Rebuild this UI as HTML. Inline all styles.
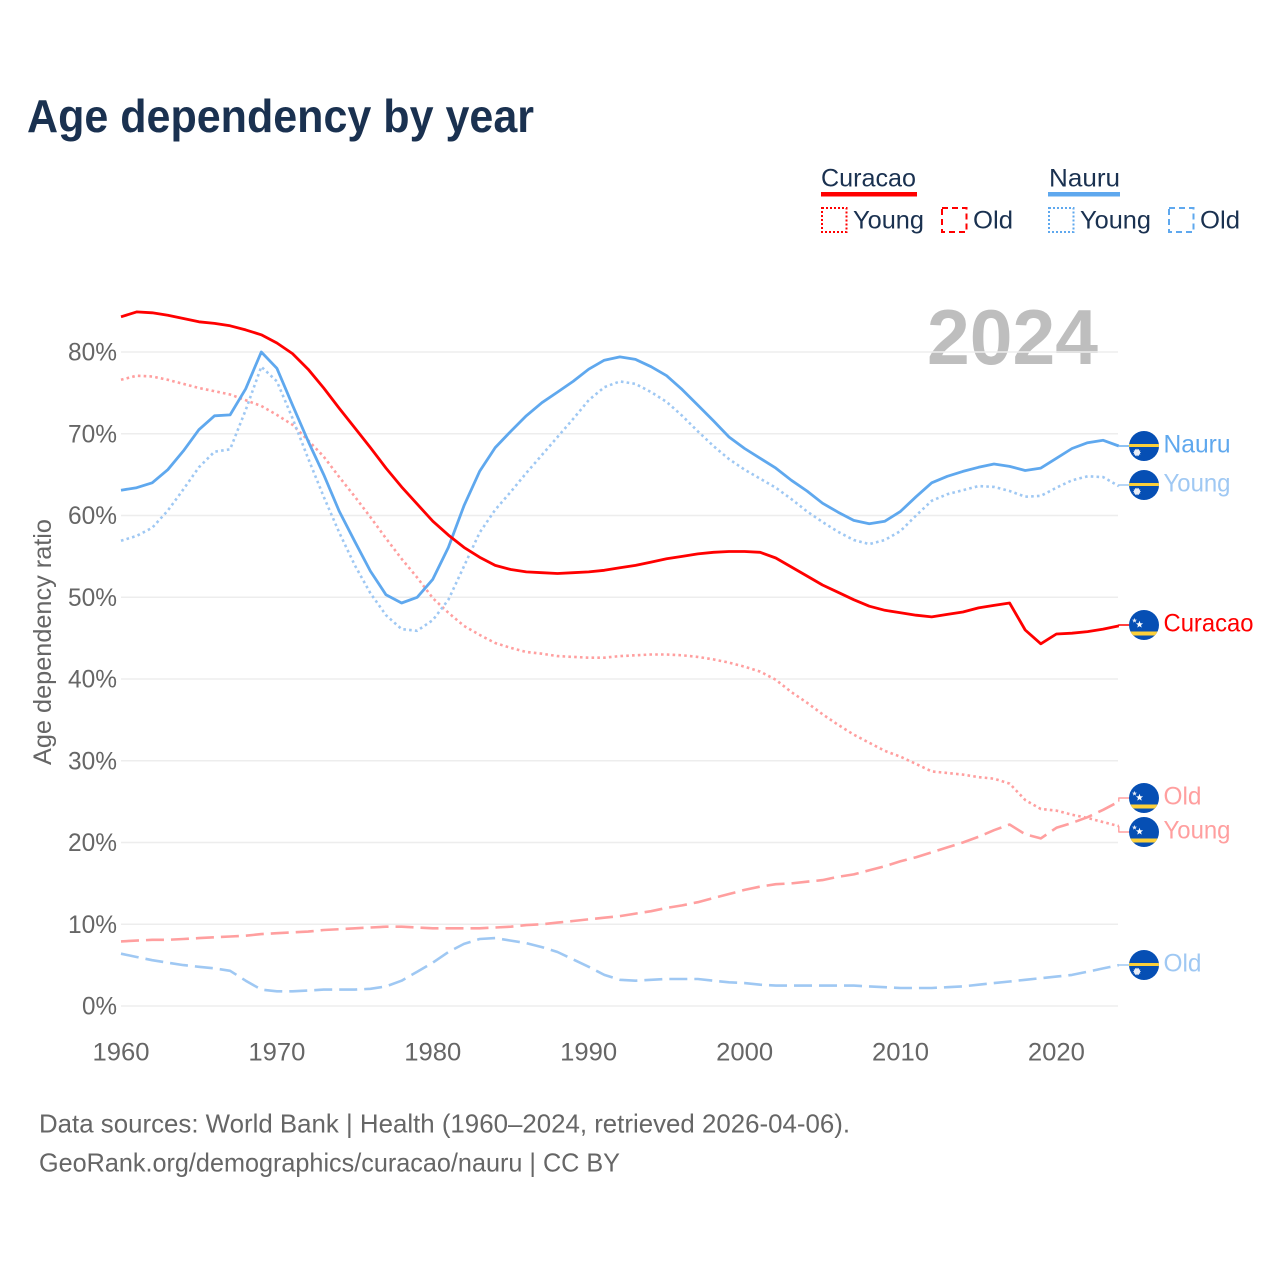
<!DOCTYPE html>
<html lang="en">
<head>
<meta charset="utf-8">
<title>Age dependency by year</title>
<style>
html,body{margin:0;padding:0;background:#fff;}
svg{display:block;font-family:"Liberation Sans",sans-serif;}
</style>
</head>
<body>
<svg id="chart" xmlns="http://www.w3.org/2000/svg" width="1280" height="1280" viewBox="0 0 1280 1280">
  <defs>
    <clipPath id="flag-clip"><circle cx="0" cy="0" r="15"/></clipPath>
  </defs>
  <rect x="0" y="0" width="1280" height="1280" fill="#ffffff"/>
  <text x="27" y="132" font-size="46" font-weight="700" fill="#1a3150" textLength="507" lengthAdjust="spacingAndGlyphs">Age dependency by year</text>

  <g font-size="25" fill="#1a3150">
    <text x="821" y="186.5" textLength="95" lengthAdjust="spacingAndGlyphs">Curacao</text>
    <rect x="821" y="192" width="96" height="4.5" fill="#ff0000"/>
    <rect x="822" y="208" width="24.5" height="24" fill="none" stroke="#ff0000" stroke-width="2" stroke-dasharray="2 2"/>
    <text x="853" y="228.5" textLength="71" lengthAdjust="spacingAndGlyphs">Young</text>
    <rect x="942" y="208" width="24.5" height="24" fill="none" stroke="#ff0000" stroke-width="2" stroke-dasharray="6 4"/>
    <text x="973" y="228.5" textLength="40" lengthAdjust="spacingAndGlyphs">Old</text>
    <text x="1049" y="186.5" textLength="71" lengthAdjust="spacingAndGlyphs">Nauru</text>
    <rect x="1048" y="192" width="72" height="4.5" fill="#5fa8ee"/>
    <rect x="1049" y="208" width="24.5" height="24" fill="none" stroke="#5fa8ee" stroke-width="2" stroke-dasharray="2 2"/>
    <text x="1080" y="228.5" textLength="71" lengthAdjust="spacingAndGlyphs">Young</text>
    <rect x="1169" y="208" width="24.5" height="24" fill="none" stroke="#5fa8ee" stroke-width="2" stroke-dasharray="6 4"/>
    <text x="1200" y="228.5" textLength="40" lengthAdjust="spacingAndGlyphs">Old</text>
  </g>

  <text x="927" y="364" font-size="78" font-weight="700" fill="#bebebe" textLength="171" lengthAdjust="spacingAndGlyphs">2024</text>

  <g id="grid"></g>
  <g id="y-ticks" font-size="25" fill="#666666" text-anchor="end"></g>
  <g id="x-ticks" font-size="25" fill="#666666" text-anchor="middle"></g>
  <text transform="translate(51 642) rotate(-90)" font-size="25" fill="#666666" text-anchor="middle" textLength="246" lengthAdjust="spacingAndGlyphs">Age dependency ratio</text>

  <g id="series" fill="none" stroke-linejoin="round"></g>
  <g id="end-labels" font-size="25"></g>

  <g font-size="26" fill="#666666">
    <text x="39" y="1132.5" textLength="811" lengthAdjust="spacingAndGlyphs">Data sources: World Bank | Health (1960–2024, retrieved 2026-04-06).</text>
    <text x="39" y="1171.5" textLength="581" lengthAdjust="spacingAndGlyphs">GeoRank.org/demographics/curacao/nauru | CC BY</text>
  </g>
</svg>
<script>
const firstYear = 1960;
const curacaoTotal = [
  84.3,84.9,84.8,84.5,84.1,83.7,83.5,83.2,82.7,82.1,
  81.1,79.8,77.9,75.6,73.1,70.7,68.3,65.8,63.5,61.4,
  59.3,57.6,56.1,54.9,53.9,53.4,53.1,53.0,52.9,53.0,
  53.1,53.3,53.6,53.9,54.3,54.7,55.0,55.3,55.5,55.6,
  55.6,55.5,54.8,53.7,52.6,51.5,50.6,49.7,48.9,48.4,
  48.1,47.8,47.6,47.9,48.2,48.7,49.0,49.3,46.0,44.3,
  45.5,45.6,45.8,46.1,46.5
];
const curacaoYoung = [
  76.6,77.1,77.0,76.6,76.1,75.6,75.2,74.8,74.1,73.4,
  72.3,71.1,69.2,67.2,64.7,62.3,59.8,57.2,54.7,52.4,
  49.9,48.1,46.5,45.4,44.4,43.8,43.3,43.1,42.8,42.7,
  42.6,42.6,42.8,42.9,43.0,43.0,42.9,42.7,42.4,42.0,
  41.5,40.9,39.9,38.4,37.1,35.7,34.4,33.2,32.2,31.2,
  30.5,29.6,28.7,28.5,28.3,28.0,27.8,27.2,25.2,24.1,
  23.9,23.4,23.0,22.5,22.0
];
const curacaoOld = [
  7.9,8.0,8.1,8.1,8.2,8.3,8.4,8.5,8.6,8.8,
  8.9,9.0,9.1,9.3,9.4,9.5,9.6,9.7,9.7,9.6,
  9.5,9.5,9.5,9.5,9.6,9.7,9.9,10.0,10.2,10.4,
  10.6,10.8,11.0,11.3,11.6,12.0,12.3,12.7,13.2,13.7,
  14.2,14.6,14.9,15.0,15.2,15.4,15.8,16.1,16.6,17.1,
  17.7,18.2,18.8,19.4,20.0,20.7,21.5,22.2,21.0,20.5,
  21.8,22.4,23.1,24.0,25.0
];
const nauruTotal = [
  63.1,63.4,64.0,65.6,67.9,70.5,72.2,72.3,75.5,80.0,
  78.0,73.5,69.1,65.0,60.5,56.8,53.2,50.3,49.3,50.0,
  52.2,56.1,61.2,65.4,68.3,70.3,72.2,73.8,75.1,76.4,
  77.9,79.0,79.4,79.1,78.2,77.1,75.4,73.5,71.6,69.6,
  68.2,67.0,65.8,64.3,63.0,61.5,60.4,59.4,59.0,59.3,
  60.5,62.3,64.0,64.8,65.4,65.9,66.3,66.0,65.5,65.8,
  67.0,68.2,68.9,69.2,68.5
];
const nauruYoung = [
  56.9,57.5,58.5,60.6,63.2,65.9,67.8,68.1,72.9,78.2,
  76.4,71.9,67.0,62.3,57.9,53.9,50.5,47.8,46.1,45.9,
  47.2,49.7,53.8,57.9,60.7,62.9,65.2,67.4,69.6,71.8,
  74.1,75.7,76.4,76.1,75.1,73.9,72.2,70.3,68.5,66.9,
  65.6,64.5,63.4,62.0,60.5,59.2,58.0,57.0,56.5,57.0,
  58.1,60.0,61.8,62.6,63.1,63.6,63.5,63.0,62.3,62.4,
  63.4,64.3,64.8,64.7,63.6
];
const nauruOld = [
  6.4,6.0,5.6,5.3,5.0,4.8,4.6,4.3,3.1,2.0,
  1.8,1.8,1.9,2.0,2.0,2.0,2.1,2.4,3.1,4.2,
  5.3,6.6,7.6,8.2,8.3,8.0,7.7,7.2,6.6,5.7,
  4.8,3.8,3.2,3.1,3.2,3.3,3.3,3.3,3.1,2.9,
  2.8,2.6,2.5,2.5,2.5,2.5,2.5,2.5,2.4,2.3,
  2.2,2.2,2.2,2.3,2.4,2.6,2.8,3.0,3.2,3.4,
  3.6,3.8,4.2,4.6,5.0
];
const yTickValues = [0,10,20,30,40,50,60,70,80];
const xTickYears = [1960,1970,1980,1990,2000,2010,2020];

const SVG_NS = "http://www.w3.org/2000/svg";
function xScale(year){ return 121 + (year - firstYear) * 15.59; }
function yScale(pct){ return 1006 - pct * 8.175; }
function make(tag, attrs, parent){
  const el = document.createElementNS(SVG_NS, tag);
  for (const k in attrs) el.setAttribute(k, attrs[k]);
  parent.appendChild(el);
  return el;
}

const gridLayer = document.getElementById("grid");
const yLayer = document.getElementById("y-ticks");
const xLayer = document.getElementById("x-ticks");
const seriesLayer = document.getElementById("series");
const labelLayer = document.getElementById("end-labels");

yTickValues.forEach(function(v){
  const line = make("line", {x1:121, x2:1118, y1:yScale(v), y2:yScale(v), stroke:"#ededed", "stroke-width":1.6}, gridLayer);
  
  
  const t = make("text", {x:117, y:yScale(v) + 8.5, textLength: v === 0 ? 35 : 49, lengthAdjust:"spacingAndGlyphs"}, yLayer);
  t.textContent = v + "%";
  
  
});

xTickYears.forEach(function(y){
  const t = make("text", {x:xScale(y), y:1060.5, textLength:57, lengthAdjust:"spacingAndGlyphs"}, xLayer);
  t.textContent = y;
  
  
});

const RED = "#ff0000", BLUE = "#5fa8ee", LRED = "#ff9f9f", LBLUE = "#9fc8f3";
const DOT = "2.6 3.2", DASH = "18 7";

const seriesDefs = [
  {key:"curacao-old",   values:curacaoOld,   color:LRED,  width:2.6, dash:DASH, label:"Old",     labelY:798, labelW:38, flag:"curacao"},
  {key:"nauru-old",     values:nauruOld,     color:LBLUE, width:2.6, dash:DASH, label:"Old",     labelY:965, labelW:38, flag:"nauru"},
  {key:"curacao-young", values:curacaoYoung, color:LRED,  width:2.6, dash:DOT,  label:"Young",   labelY:832, labelW:67, flag:"curacao"},
  {key:"nauru-young",   values:nauruYoung,   color:LBLUE, width:2.6, dash:DOT,  label:"Young",   labelY:485, labelW:67, flag:"nauru"},
  {key:"nauru-total",   values:nauruTotal,   color:BLUE,  width:2.8, dash:"",   label:"Nauru",   labelY:446, labelW:67, flag:"nauru"},
  {key:"curacao-total", values:curacaoTotal, color:RED,   width:2.8, dash:"",   label:"Curacao", labelY:625, labelW:90, flag:"curacao"}
];

function star(cx, cy, r, n, inner){
  const pts = [];
  for (let i = 0; i < n * 2; i++){
    const a = -Math.PI/2 + i * Math.PI/n;
    const rr = i % 2 ? r * inner : r;
    pts.push((cx + rr*Math.cos(a)).toFixed(2) + "," + (cy + rr*Math.sin(a)).toFixed(2));
  }
  return pts.join(" ");
}

function drawFlag(kind, cy, key){
  const g = make("g", {transform:"translate(1144 " + cy + ")"}, labelLayer);
  
  
  const inner = make("g", {"clip-path":"url(#flag-clip)"}, g);
  make("rect", {x:-15, y:-15, width:30, height:30, fill:"#064fb4"}, inner);
  if (kind === "nauru"){
    make("rect", {x:-15, y:-2, width:30, height:3, fill:"#fcd03a"}, inner);
    make("polygon", {points:star(-7, 6.5, 4, 12, 0.72), fill:"#e8edf7"}, inner);
  } else {
    make("rect", {x:-15, y:6.5, width:30, height:4, fill:"#fcd03a"}, inner);
    make("polygon", {points:star(-4.5, -0.5, 3.8, 5, 0.42), fill:"#ffffff"}, inner);
    make("polygon", {points:star(-9.5, -4.5, 2.6, 5, 0.42), fill:"#e8edf7"}, inner);
  }
}

seriesDefs.forEach(function(s){
  const d = s.values.map(function(v, i){
    return (i ? "L" : "M") + xScale(firstYear + i).toFixed(1) + "," + yScale(v).toFixed(1);
  }).join(" ");
  const attrs = {d:d, stroke:s.color, "stroke-width":s.width};
  if (s.dash) attrs["stroke-dasharray"] = s.dash;
  const line = make("path", attrs, seriesLayer);
  
  

  const lastX = xScale(firstYear + s.values.length - 1);
  const lastY = yScale(s.values[s.values.length - 1]);
  const conn = make("path", {d:"M" + lastX.toFixed(1) + "," + lastY.toFixed(1) + " L" + lastX.toFixed(1) + "," + s.labelY + " L1130," + s.labelY, stroke:s.color, "stroke-width":1.4, fill:"none"}, seriesLayer);
  
  

  drawFlag(s.flag, s.labelY, s.key);

  const t = make("text", {x:1163.5, y:s.labelY + 6.5, fill:s.color, textLength:s.labelW, lengthAdjust:"spacingAndGlyphs"}, labelLayer);
  t.textContent = s.label;
  
  
});
</script>
</body>
</html>
